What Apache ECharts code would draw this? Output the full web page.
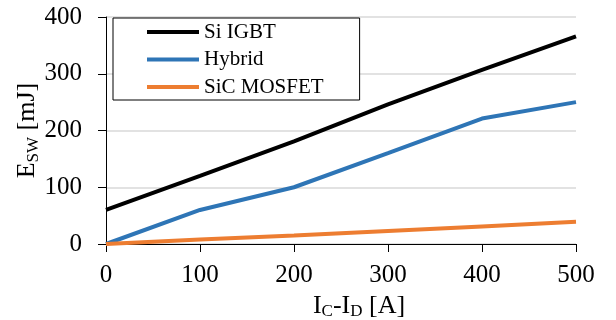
<!DOCTYPE html>
<html>
<head>
<meta charset="utf-8">
<script src="https://cdn.jsdelivr.net/npm/echarts@6/dist/echarts.min.js"></script>
<style>
  html, body { margin: 0; padding: 0; background: #fff; }
  #chart { width: 616px; height: 320px; }
</style>
</head>
<body>
<div id="chart"></div>
<script>
  // current I_C - I_D [A]
  var current = [0, 100, 200, 300, 400, 500]
  // switching energy [mJ]
  var siIgbt = [60, 120, 181, 246, 307, 366]
  var hybrid = [0, 60, 100, 160, 221, 250]
  var sicMosfet = [0, 8, 15, 23, 31, 39]

  var serif = '"Liberation Serif", "Times New Roman", Times, serif'

  function pairs(vals) {
    return vals.map(function (v, i) { return [current[i], v] })
  }

  function line(name, color, vals) {
    return {
      name: name,
      type: 'line',
      data: pairs(vals),
      showSymbol: false,
      symbol: 'none',
      lineStyle: { color: color, width: 4 },
      itemStyle: { color: color },
      animation: false
    }
  }

  var chart = echarts.init(document.getElementById('chart'))
  chart.setOption({
    backgroundColor: '#fff',
    grid: { left: 106, right: 40, top: 17, bottom: 76, containLabel: false, outerBoundsMode: 'none' },
    legend: {
      orient: 'vertical',
      left: 113,
      top: 18,
      icon: 'rect',
      itemWidth: 52,
      itemHeight: 4,
      itemGap: 6.5,
      itemTextGap: 7,
      padding: [3.5, 36, 2.5, 34],
      borderColor: '#000',
      borderWidth: 1,
      backgroundColor: '#fff',
      textStyle: { fontFamily: serif, fontSize: 21, color: '#000', lineHeight: 21 },
      data: ['Si IGBT', 'Hybrid', 'SiC MOSFET']
    },
    xAxis: {
      type: 'value',
      min: 0,
      max: 500,
      interval: 100,
      name: '{b|I}{s|C}{b|-I}{s|D}{b| [A]}',
      nameLocation: 'middle',
      nameGap: 38,
      nameTextStyle: {
        padding: [0, 0, 0, 36],
        rich: {
          b: { fontFamily: serif, fontSize: 26, color: '#000' },
          s: { fontFamily: serif, fontSize: 17, color: '#000', padding: [12, 0, 0, 0] }
        }
      },
      axisLine: { show: true, lineStyle: { color: '#000', width: 1 } },
      axisTick: { show: true, length: 8, lineStyle: { color: '#000' } },
      axisLabel: { fontFamily: serif, fontSize: 25, color: '#000', margin: 19 },
      splitLine: { show: false }
    },
    yAxis: {
      type: 'value',
      min: 0,
      max: 400,
      interval: 100,
      name: '{b|E}{s|SW}{b| [mJ]}',
      nameLocation: 'middle',
      nameGap: 64,
      nameMoveOverlap: false,
      nameTextStyle: {
        rich: {
          b: { fontFamily: serif, fontSize: 26, color: '#000' },
          s: { fontFamily: serif, fontSize: 17, color: '#000', padding: [12, 0, 0, 0] }
        }
      },
      axisLine: { show: true, lineStyle: { color: '#000', width: 1 } },
      axisTick: { show: true, length: 8, lineStyle: { color: '#000' } },
      axisLabel: { fontFamily: serif, fontSize: 25, color: '#000', margin: 24 },
      splitLine: { show: true, lineStyle: { color: '#d9d9d9', width: 1.5 } }
    },
    series: [
      line('Si IGBT', '#000000', siIgbt),
      line('Hybrid', '#2e75b6', hybrid),
      line('SiC MOSFET', '#ed7d31', sicMosfet)
    ]
  })
</script>
</body>
</html>
